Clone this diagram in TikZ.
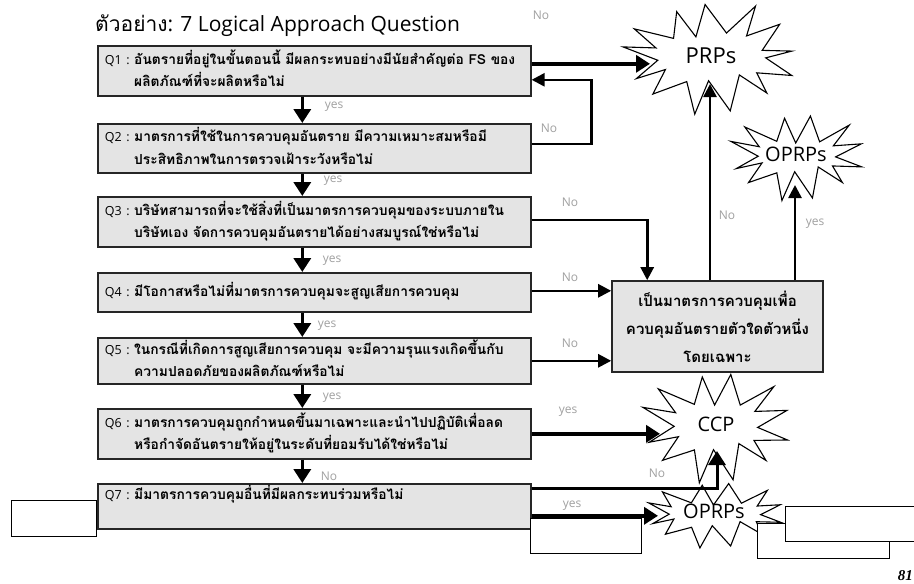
\documentclass[tikz,border=0pt]{standalone}
\usepackage{fontspec}
\setmainfont{Open Sans}
\newfontfamily\thai[Script=Thai]{Loma}
\newfontfamily\pageserif{Liberation Serif}
\usetikzlibrary{arrows.meta,calc}

\definecolor{boxgray}{HTML}{E4E4E4}
\definecolor{lblgray}{HTML}{A0A0A0}

\tikzset{
  qbox/.style={draw=black!85, line width=1.6pt, fill=boxgray, anchor=north west,
    minimum width=433pt, text width=419pt, inner xsep=7pt, inner ysep=0pt, align=left,
    font=\thai\bfseries\fontsize{13.8}{22.5}\selectfont},
  sidebox/.style={draw=black!85, line width=1.6pt, fill=boxgray, minimum width=211pt,
    minimum height=91pt, align=center, font=\thai\bfseries\fontsize{15}{28}\selectfont},
  burstline/.style={draw=black, line width=1.1pt, fill=white, line join=miter},
  bursttext/.style={inner sep=0pt, font=\fontsize{20}{24}\selectfont},
  lbl/.style={text=lblgray, font=\fontsize{12}{14}\selectfont, inner sep=0pt},
  blank/.style={draw=black, line width=1pt, fill=white, inner sep=0pt},
  bigarr/.style={line width=3.6pt, -{Triangle[width=17pt,length=14pt]}},
  smallarr/.style={line width=2.6pt, -{Triangle[width=13pt,length=13pt]}},
}

% question text: label, first line, hanging second line
\newcommand{\qtext}[3]{\begin{tabular}{@{}l@{}l@{}}{\normalfont\fontsize{12.5}{22}\selectfont #1\ :\ } & #2\\ & #3\end{tabular}}

% spiky star outline: centre x, centre y, inner half-width, inner half-height,
% spike length, number of points, phase angle
\newcommand{\burstpath}[7]{%
  \pgfmathtruncatemacro{\nv}{2*#6-1}%
  \draw[burstline] ({#1+(#3+#5)*cos(#7)},{#2+(#4+#5)*sin(#7)})
    \foreach \k [evaluate=\k as \angk using {#7+\k*180/#6+4*sin(\k*97)},
                 evaluate=\k as \spk using {ifthenelse(mod(\k,2)==0, #5*(1+0.15*sin(\k*131)), 3*cos(\k*53))}]
      in {1,...,\nv}{
      -- ({#1+(#3+\spk)*cos(\angk)},{#2+(#4+\spk)*sin(\angk)})
    } -- cycle;}

\begin{document}
\begin{tikzpicture}[x=1pt,y=-1pt]
\useasboundingbox[fill=white] (0,0) rectangle (914,584);

% title
\node[anchor=west, inner sep=0pt, font=\fontsize{21}{24}\selectfont] (title) at (95,26)
  {{\thai ตัวอย่าง}: 7 Logical Approach Question};

% question boxes
\node[qbox, minimum height=50pt] (Q1) at (97,45)
  {\qtext{Q1}{อันตรายที่อยู่ในขั้นตอนนี้ มีผลกระทบอย่างมีนัยสำคัญต่อ FS ของ}{ผลิตภัณฑ์ที่จะผลิตหรือไม่}};
\node[qbox, minimum height=49pt] (Q2) at (97,123)
  {\qtext{Q2}{มาตรการที่ใช้ในการควบคุมอันตราย มีความเหมาะสมหรือมี}{ประสิทธิภาพในการตรวจเฝ้าระวังหรือไม่}};
\node[qbox, minimum height=50pt] (Q3) at (97,196)
  {\qtext{Q3}{บริษัทสามารถที่จะใช้สิ่งที่เป็นมาตรการควบคุมของระบบภายใน}{บริษัทเอง จัดการควบคุมอันตรายได้อย่างสมบูรณ์ใช่หรือไม่}};
\node[qbox, minimum height=39pt] (Q4) at (97,272)
  {\begin{tabular}{@{}l@{}l@{}}{\normalfont\fontsize{12.5}{22}\selectfont Q4\ :\ } & มีโอกาสหรือไม่ที่มาตรการควบคุมจะสูญเสียการควบคุม\end{tabular}};
\node[qbox, minimum height=46pt] (Q5) at (97,337)
  {\qtext{Q5}{ในกรณีที่เกิดการสูญเสียการควบคุม จะมีความรุนแรงเกิดขึ้นกับ}{ความปลอดภัยของผลิตภัณฑ์หรือไม่}};
\node[qbox, minimum height=50pt] (Q6) at (97,408)
  {\qtext{Q6}{มาตรการควบคุมถูกกำหนดขึ้นมาเฉพาะและนำไปปฏิบัติเพื่อลด}{หรือกำจัดอันตรายให้อยู่ในระดับที่ยอมรับได้ใช่หรือไม่}};
\node[qbox, minimum height=45pt] (Q7) at (97,483)
  {\qtext{Q7}{มีมาตรการควบคุมอื่นที่มีผลกระทบร่วมหรือไม่}{\strut}};

% side box
\node[sidebox] (rb) at (717.5,326.5) {เป็นมาตรการควบคุมเพื่อ\\ควบคุมอันตรายตัวใดตัวหนึ่ง\\โดยเฉพาะ};

% outcome bursts: outlines, then their labels
\burstpath{711}{57}{56}{24}{30}{13}{20}
\burstpath{797}{156}{41}{16}{26}{12}{15}
\burstpath{716}{426}{44}{24}{30}{12}{15}
\burstpath{715}{514}{48}{12}{20}{12}{15}
\node[bursttext, font=\fontsize{22}{24}\selectfont] (PRPs) at (711,56) {PRPs};
\node[bursttext] (OPRPs1) at (796,154) {OPRPs};
\node[bursttext] (CCP) at (716,424) {CCP};
\node[bursttext] (OPRPs2) at (714,511) {OPRPs};

% main chain of yes / No answers
\foreach \a/\b in {Q1/Q2, Q2/Q3, Q3/Q4, Q4/Q5, Q5/Q6, Q6/Q7}{
  \draw[bigarr] ($(\a.south)+(-12,0)$) -- ($(\b.north)+(-12,0)$);
}
\node[lbl] (y1) at (334,107) {yes};
\node[lbl] (y2) at (333,181) {yes};
\node[lbl] (y3) at (332,261) {yes};
\node[lbl] (y4) at (327,326) {yes};
\node[lbl] (y5) at (332,398) {yes};
\node[lbl] (n6) at (329,476) {No};

% Q1 -> PRPs
\coordinate (q1o) at ($(Q1.east)+(0,-7)$);
\coordinate (prpsIn) at ($(PRPs.center)+(-61,0)$);
\draw[bigarr] (q1o) -- (q1o -| prpsIn);
\node[lbl] (n1) at (541,15) {No};

% Q2 -> back to Q1
\coordinate (q2o) at ($(Q2.east)+(0,-4.5)$);
\coordinate (q1i) at ($(Q1.east)+(0,9)$);
\draw[smallarr] (q2o) -- ++(60,0) |- (q1i);
\node[lbl] (n2) at (549,128) {No};

% Q3, Q4, Q5 -> side box
\coordinate (q3o) at ($(Q3.east)+(0,-2)$);
\coordinate (rbIn) at ($(rb.north west)+(36,0)$);
\draw[smallarr] (q3o) -| (rbIn);
\node[lbl] (n3) at (570,202) {No};
\coordinate (q4o) at ($(Q4.east)+(0,-1.5)$);
\draw[smallarr] (q4o) -- (q4o -| rb.west);
\node[lbl] (n4) at (570,277) {No};
\draw[smallarr] (Q5.east) -- (Q5.east -| rb.west);
\node[lbl] (n5) at (570,343) {No};

% side box -> PRPs / OPRPs
\coordinate (rbo1) at ($(rb.north)+(-7.5,0)$);
\coordinate (prpsB) at ($(PRPs.center)+(0,28)$);
\draw[smallarr] (rbo1) -- (rbo1 |- prpsB);
\node[lbl] (n7) at (727,215) {No};
\coordinate (rbo2) at ($(rb.north)+(77.5,0)$);
\coordinate (oprpsB) at ($(OPRPs1.center)+(0,31)$);
\draw[smallarr] (rbo2) -- (rbo2 |- oprpsB);
\node[lbl] (y7) at (815,224) {yes};

% Q6 -> CCP
\coordinate (ccpIn) at ($(CCP.center)+(-56,0)$);
\draw[bigarr] (Q6.east) -- (Q6.east -| ccpIn);
\node[lbl] (y6) at (568,412) {yes};

% Q7 -> CCP / OPRPs
\coordinate (q7a) at ($(Q7.east)+(0,-17.5)$);
\coordinate (ccpB) at ($(CCP.center)+(1,27)$);
\draw[line width=3pt, -{Triangle[width=17pt,length=14pt]}] (q7a) -| (ccpB);
\node[lbl] (n8) at (657,473) {No};
\coordinate (q7b) at ($(Q7.east)+(0,9.5)$);
\coordinate (oprpsIn) at ($(OPRPs2.center)+(-56,0)$);
\draw[bigarr] (q7b) -- (q7b -| oprpsIn);
\node[lbl] (y8) at (572,506) {yes};

% blank panels laid over the chart
\node[blank, minimum width=85pt, minimum height=36pt] (w1) at (53.5,518) {};
\node[blank, minimum width=111pt, minimum height=35pt] (w2) at (585.5,535.5) {};
\node[blank, minimum width=132pt, minimum height=35pt] (w4) at (823,540.5) {};
\node[blank, minimum width=140pt, minimum height=35pt] (w3) at (855,523.5) {};

% page number
\node[anchor=base east, inner sep=0pt, font=\pageserif\bfseries\itshape\fontsize{15}{18}\selectfont] (pg) at (913,580) {81};
\end{tikzpicture}
\end{document}
